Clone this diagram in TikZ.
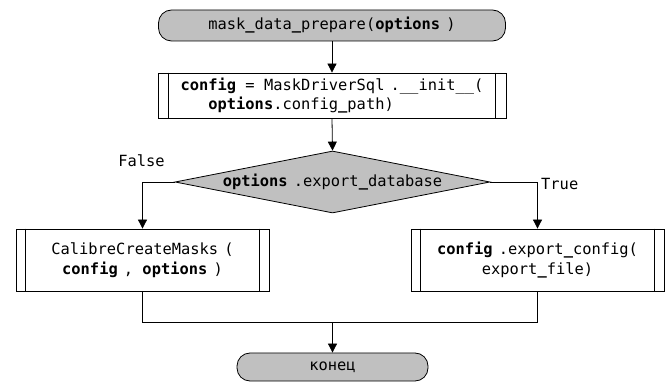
\documentclass[tikz,border=0pt]{standalone}
\usepackage{fontspec}
\setmonofont{DejaVu Sans Mono}
\usetikzlibrary{arrows.meta,shapes.geometric}
\definecolor{shapegray}{RGB}{192,192,192}
\newcommand{\bu}{\textbf{\_}}
\newcommand{\gp}{\hspace{0.4em}}
\tikzset{
  base/.style={font=\ttfamily\fontsize{15.4}{19.5}\selectfont, line width=0.8pt},
  term/.style={base, draw, fill=shapegray, rounded corners=13pt, inner sep=0pt},
  proc/.style={base, draw, fill=white, inner sep=0pt, align=center},
  dec/.style={base, draw, fill=shapegray, diamond, aspect=5.08, inner sep=0pt},
  lbl/.style={font=\ttfamily\fontsize{15.4}{19.5}\selectfont, inner sep=0pt},
  conn/.style={line width=0.8pt, -{Triangle[length=9pt,width=9pt]}},
  plain/.style={line width=0.8pt}
}
\begin{document}
\begin{tikzpicture}[x=1pt,y=-1pt]
\useasboundingbox (0,0) rectangle (670,382);
\node[term, minimum width=347pt, minimum height=31pt] (start) at (332,25.5) {mask\bu data\bu prepare(\textbf{options}\gp)};
\node[proc, minimum width=348pt, minimum height=45pt, align=left] (b1) at (332,95.5)
  {\textbf{config} = MaskDriverSql\gp.\_\_init\_\_(\\\phantom{ooo}\textbf{options}.config\bu path)};
\draw[plain] ([xshift=11pt]b1.north west) -- ([xshift=11pt]b1.south west);
\draw[plain] ([xshift=-11pt]b1.north east) -- ([xshift=-11pt]b1.south east);
\node[dec, minimum width=315pt, minimum height=62pt] (d) at (332.5,182) {\textbf{options}\gp.export\bu database};
\node[proc, minimum width=253pt, minimum height=62pt] (l) at (142.5,260) {CalibreCreateMasks\gp(\\\textbf{config}\gp, \textbf{options}\gp)};
\draw[plain] ([xshift=10pt]l.north west) -- ([xshift=10pt]l.south west);
\draw[plain] ([xshift=-10pt]l.north east) -- ([xshift=-10pt]l.south east);
\node[proc, minimum width=253pt, minimum height=62pt] (r) at (537.5,260) {\textbf{config}\gp.export\bu config(\\export\bu file)};
\draw[plain] ([xshift=10pt]r.north west) -- ([xshift=10pt]r.south west);
\draw[plain] ([xshift=-10pt]r.north east) -- ([xshift=-10pt]r.south east);
\node[term, minimum width=191pt, minimum height=28pt] (e) at (332.5,367) {конец};
\node[lbl] (f) at (141.5,161) {False};
\node[lbl, anchor=west] (t) at (541,184) {True};
\coordinate (m) at (332.5,322.5);
\draw[conn] (start.south) -- (b1.north);
\draw[conn] (b1.south) -- (d.north);
\draw[conn] (d.west) -| (l.north);
\draw[conn] (d.east) -| (r.north);
\draw[plain] (l.south) |- (m) -| (r.south);
\draw[conn] (m) -- (e.north);
\end{tikzpicture}
\end{document}
